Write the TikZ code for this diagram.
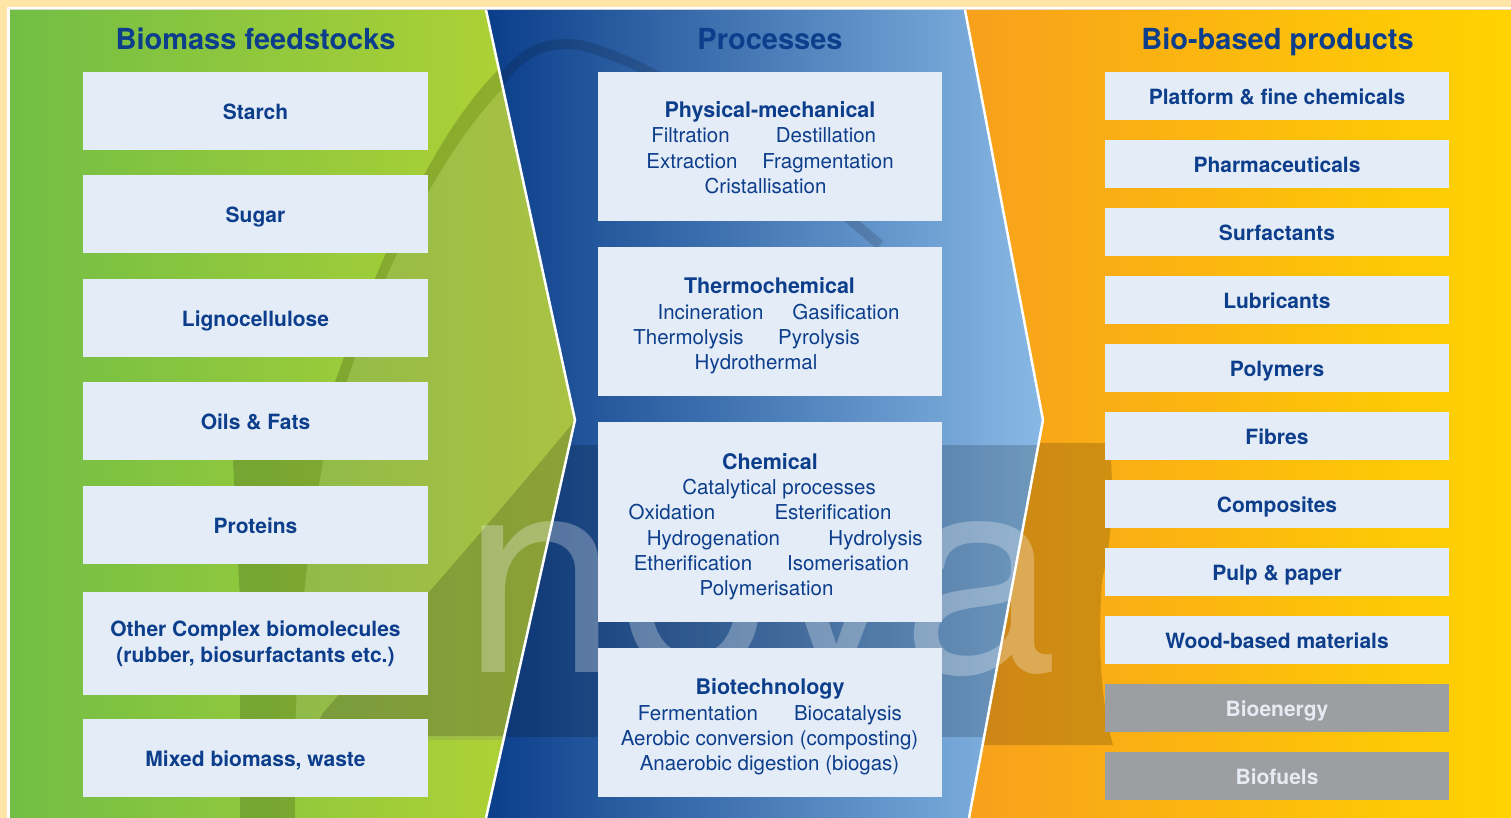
\documentclass[tikz,border=0pt]{standalone}
\usepackage{fontspec}
\setmainfont{TeX Gyre Heros}

\definecolor{novablue}{HTML}{0C3E8C}
\definecolor{boxfill}{HTML}{E4ECF7}
\definecolor{grayfill}{HTML}{9D9EA2}
\definecolor{grayfont}{HTML}{E6EBF4}
\definecolor{frame}{HTML}{FFE6A6}
\definecolor{greenL}{HTML}{72BE45}
\definecolor{greenR}{HTML}{B6D433}
\definecolor{blueL}{HTML}{0B3E8A}
\definecolor{blueR}{HTML}{88B9E5}
\definecolor{orangeL}{HTML}{F8A01C}
\definecolor{orangeR}{HTML}{FFD300}

\begin{document}
\begin{tikzpicture}[x=1pt, y=-1pt,
  heading/.style={font=\fontsize{29}{34}\selectfont\bfseries, text=novablue, anchor=base, inner sep=0pt},
  feedbox/.style={rectangle, fill=boxfill, minimum width=345pt, minimum height=78pt, inner sep=0pt,
    text=novablue, font=\fontsize{21}{26}\selectfont\bfseries, text height=17pt, text depth=0pt},
  procbox/.style={rectangle, fill=boxfill, minimum width=344pt, inner sep=0pt},
  prochead/.style={font=\fontsize{21.5}{26}\selectfont\bfseries, text=novablue, anchor=base, inner sep=0pt},
  procitem/.style={font=\fontsize{20.5}{25}\selectfont, text=novablue, anchor=base, inner sep=0pt},
  prodbox/.style={rectangle, fill=boxfill, minimum width=344pt, minimum height=48pt, inner sep=0pt,
    text=novablue, font=\fontsize{21}{26}\selectfont\bfseries, text height=17pt, text depth=0pt},
  energybox/.style={prodbox, fill=grayfill, text=grayfont},
  darkwash/.style={fill=black, fill opacity=0.17},
  lightwash/.style={fill=gray, fill opacity=0.2},
  logoletters/.style={font=\fontsize{280}{280}\selectfont, text=white, text opacity=0.28, anchor=base west, inner sep=0pt}]

  \useasboundingbox (0,0) rectangle (1511,818);
  \fill[frame] (0,0) rectangle (1511,818);
  \fill[white] (7,7) rectangle (1511,818);

  % three panels
  \fill[left color=greenL, right color=greenR]
  (10,10) -- (486,10) -- (575,420) -- (486,818) -- (10,818) -- cycle;
  \fill[left color=blueL, right color=blueR]
  (486,10) -- (965,10) -- (1043,420) -- (969,818) -- (486,818) -- (575,420) -- cycle;
  \fill[left color=orangeL, right color=orangeR]
  (965,10) -- (1511,10) -- (1511,818) -- (969,818) -- (1043,420) -- cycle;

  % faded logo behind the boxes
  \begin{scope}
    \clip (10,10) -- (486,10) -- (575,420) -- (486,818) -- (10,818) -- cycle;
    \fill[lightwash] (560,44) .. controls (470,90) and (380,250) .. (323,461)
    .. controls (305,560) and (297,650) .. (295,740) -- (600,740) -- (600,10) -- cycle;
    \fill[darkwash] (543,38) .. controls (470,70) and (400,200) .. (335,382)
    .. controls (300,420) and (245,440) .. (233,461) -- (240,600) -- (240,818) -- (295,818) -- (295,740)
    .. controls (297,650) and (305,560) .. (323,461) .. controls (380,250) and (470,90) .. (560,44) -- cycle;
    \fill[darkwash] (323,713) .. controls (380,647) and (480,537) .. (600,390) -- (600,736) -- (310,736) -- cycle;
  \end{scope}
  \begin{scope}
    \clip (486,10) -- (965,10) -- (1043,420) -- (969,818) -- (486,818) -- (575,420) -- cycle;
    \draw[black, opacity=0.14, line width=10pt] (488,100) .. controls (515,55) and (540,40) .. (580,45)
    .. controls (680,70) and (780,160) .. (880,245);
    \fill[darkwash] (480,445) rectangle (1050,737);
  \end{scope}
  \begin{scope}
    \clip (965,10) -- (1511,10) -- (1511,818) -- (969,818) -- (1043,420) -- cycle;
    \fill[darkwash] (960,443) -- (1110,443) .. controls (1114,500) and (1112,540) .. (1102,580)
    .. controls (1098,640) and (1100,700) .. (1113,745) -- (960,745) -- cycle;
  \end{scope}
  \node[logoletters] (logo) at (462,672) {nova};

  \draw[white, line width=2.5pt] (486,10) -- (575,420) -- (486,818);
  \draw[white, line width=2.5pt] (965,10) -- (1043,420) -- (969,818);

  % headings
  \node[heading] (tfeed) at (255.5,50) {Biomass feedstocks};
  \node[heading] (tproc) at (770,50) {Processes};
  \node[heading] (tprod) at (1277.5,50) {Bio-based products};

  % feedstocks
  \node[feedbox] (starch) at (255.5,111) {Starch};
  \node[feedbox] (sugar) at (255.5,214) {Sugar};
  \node[feedbox] (ligno) at (255.5,318) {Lignocellulose};
  \node[feedbox] (oils) at (255.5,421) {Oils \& Fats};
  \node[feedbox] (proteins) at (255.5,525) {Proteins};
  \node[feedbox, minimum height=103pt, align=center, text height={}, text depth={}] (complex) at (255.5,643.5)
  {Other Complex biomolecules\\(rubber, biosurfactants etc.)};
  \node[feedbox] (mixed) at (255.5,758) {Mixed biomass, waste};

  % processes
  \node[procbox, minimum height=149pt] (physmech) at (770,146.5) {};
  \node[procbox, minimum height=149pt] (thermo) at (770,321.5) {};
  \node[procbox, minimum height=200pt] (chem) at (770,522) {};
  \node[procbox, minimum height=149pt] (biotech) at (770,722.5) {};

  \begin{scope}[shift={(0,1)}]
  \node[prochead] (physmech0) at (770,117) {Physical-mechanical};
  \node[procitem] (physmech1) at (690.5,142) {Filtration};
  \node[procitem] (physmech2) at (826,142) {Destillation};
  \node[procitem] (physmech3) at (692,168) {Extraction};
  \node[procitem] (physmech4) at (828,168) {Fragmentation};
  \node[procitem] (physmech5) at (765.5,193) {Cristallisation};

  \node[prochead] (thermo0) at (769.5,292) {Thermochemical};
  \node[procitem] (thermo1) at (710.5,318) {Incineration};
  \node[procitem] (thermo2) at (846,318) {Gasification};
  \node[procitem] (thermo3) at (688.5,343) {Thermolysis};
  \node[procitem] (thermo4) at (819,343) {Pyrolysis};
  \node[procitem] (thermo5) at (756,368) {Hydrothermal};

  \node[prochead] (chem0) at (770,468) {Chemical};
  \node[procitem] (chem1) at (779,493) {Catalytical processes};
  \node[procitem] (chem2) at (672,518) {Oxidation};
  \node[procitem] (chem3) at (833,518) {Esterification};
  \node[procitem] (chem4) at (713.5,544) {Hydrogenation};
  \node[procitem] (chem5) at (875.5,544) {Hydrolysis};
  \node[procitem] (chem6) at (693,569) {Etherification};
  \node[procitem] (chem7) at (848,569) {Isomerisation};
  \node[procitem] (chem8) at (766.5,594) {Polymerisation};

  \node[prochead] (biotech0) at (770,693) {Biotechnology};
  \node[procitem] (biotech1) at (698,719) {Fermentation};
  \node[procitem] (biotech2) at (848,719) {Biocatalysis};
  \node[procitem] (biotech3) at (769.5,744) {Aerobic conversion (composting)};
  \node[procitem] (biotech4) at (769.5,769) {Anaerobic digestion (biogas)};
  \end{scope}

  % products
  \node[prodbox] (platform) at (1277,96) {Platform \& fine chemicals};
  \node[prodbox] (pharma) at (1277,164) {Pharmaceuticals};
  \node[prodbox] (surfact) at (1277,232) {Surfactants};
  \node[prodbox] (lubric) at (1277,300) {Lubricants};
  \node[prodbox] (polym) at (1277,368) {Polymers};
  \node[prodbox] (fibres) at (1277,436) {Fibres};
  \node[prodbox] (compos) at (1277,504) {Composites};
  \node[prodbox] (pulp) at (1277,572) {Pulp \& paper};
  \node[prodbox] (wood) at (1277,640) {Wood-based materials};
  \node[energybox] (bioen) at (1277,708) {Bioenergy};
  \node[energybox] (biofuel) at (1277,776) {Biofuels};

\end{tikzpicture}
\end{document}
